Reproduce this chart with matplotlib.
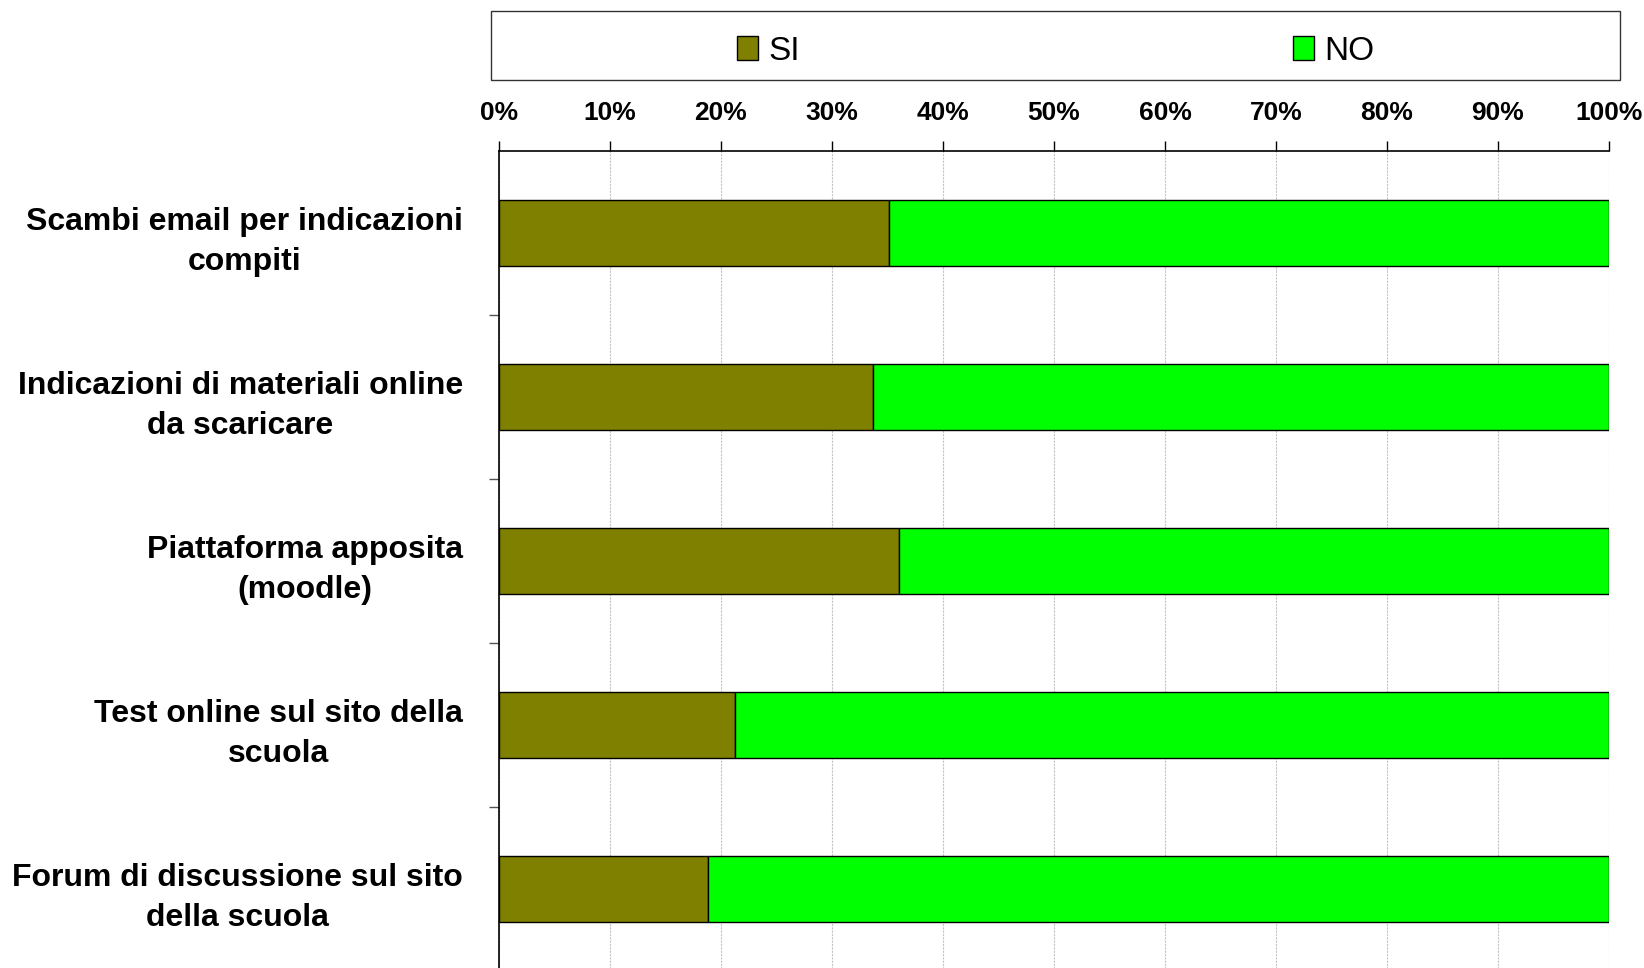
import matplotlib
matplotlib.use("Agg")
import matplotlib.pyplot as plt
from matplotlib.patches import Patch, Rectangle
import numpy as np

plt.rcParams["font.family"] = ["Liberation Sans", "DejaVu Sans"]

categories = [
    "Scambi email per indicazioni\ncompiti",
    "Indicazioni di materiali online\nda scaricare",
    "Piattaforma apposita\n(moodle)",
    "Test online sul sito della\nscuola",
    "Forum di discussione sul sito\ndella scuola",
]
si_pct = [35.1, 33.7, 36.0, 21.3, 18.8]
no_pct = [64.9, 66.3, 64.0, 78.7, 81.2]
series_names = ["SI", "NO"]
colors = ["#808000", "#00ff00"]

fig = plt.figure(figsize=(16.44, 9.68), dpi=100)
ax = fig.add_axes([0.3035, -0.0031, 0.6752, 0.8471])

y = np.arange(len(categories))
ax.barh(y, si_pct, height=0.4, color=colors[0], edgecolor="black", linewidth=1, zorder=3)
ax.barh(y, no_pct, left=si_pct, height=0.4, color=colors[1], edgecolor="black",
        linewidth=1, zorder=3)

ax.set_xlim(0, 100)
ax.set_ylim(len(categories) - 0.5, -0.5)

# x axis on top
ax.xaxis.set_ticks_position("top")
ax.xaxis.set_label_position("top")
ax.set_xticks(np.arange(0, 101, 10))
ax.set_xticklabels([f"{v}%" for v in range(0, 101, 10)], fontsize=19, fontweight="bold")
ax.tick_params(axis="x", direction="out", length=7, width=1, pad=12, color="black")
ax.grid(axis="x", color="#c4c4c4", linestyle=(0, (2, 1)), linewidth=0.8, zorder=0)

# y ticks at category boundaries, labels centred on bars
ax.set_yticks(np.arange(0.5, len(categories) - 0.5, 1))
ax.set_yticklabels([])
ax.tick_params(axis="y", which="major", direction="out", length=7, width=1, color="#555555")
ax.set_yticks(y, minor=True)
ax.set_yticklabels(categories, minor=True, fontsize=23, fontweight="bold",
                   ha="right", multialignment="center", linespacing=1.45)
ax.tick_params(axis="y", which="minor", length=0, pad=26)

for side in ["right", "bottom"]:
    ax.spines[side].set_visible(False)
ax.spines["top"].set_linewidth(1.2)
ax.spines["left"].set_linewidth(1.2)

# legend box
fig.patches.append(Rectangle((0.2987, 0.9174), 0.6867, 0.0708, transform=fig.transFigure,
                             fill=False, edgecolor="#333333", linewidth=1))
handles = [Patch(facecolor=c, edgecolor="black") for c in colors]
fig.legend(handles, series_names, loc="center", bbox_to_anchor=(0.642, 0.947), ncol=2,
           frameon=False, fontsize=24, handlelength=0.63, handleheight=0.7,
           handletextpad=0.3, columnspacing=14.8)

fig.savefig("out.png", dpi=100)
